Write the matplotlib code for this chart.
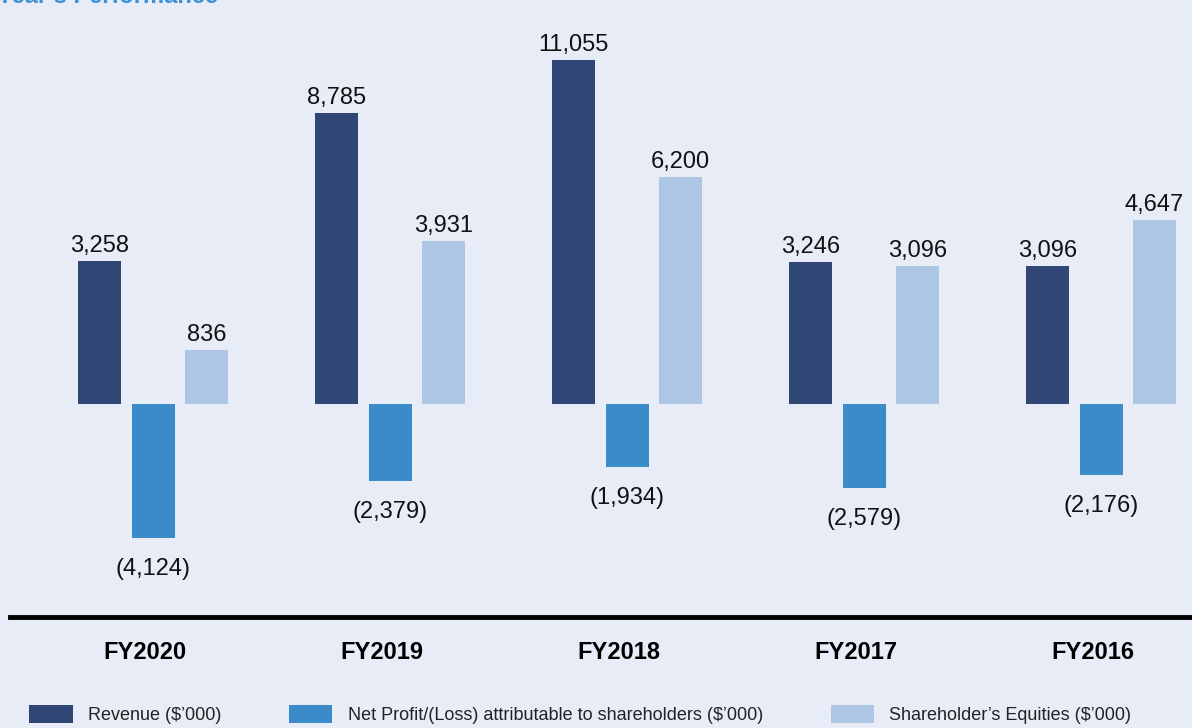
import matplotlib
matplotlib.use("Agg")
import matplotlib.pyplot as plt
import numpy as np

plt.rcParams["font.family"] = ["Liberation Sans", "DejaVu Sans"]

# ---- data ----
years = ["FY2020", "FY2019", "FY2018", "FY2017", "FY2016"]
revenue = [3258, 8785, 11055, 3246, 3096]
net_profit = [-4124, -2379, -1934, -2579, -2176]
equities = [836, 3931, 6200, 3096, 4647]
series_names = ["Revenue ($\u2019000)",
                "Net Profit/(Loss) attributable to shareholders ($\u2019000)",
                "Shareholder\u2019s Equities ($\u2019000)"]

BG = "#e8ecf7"
COLORS = ["#304776", "#3b8bc8", "#adc6e4"]

# the infographic is not drawn to a linear scale: positives are compressed
# (roughly a 0.72 power), negatives are close to linear
P, KPOS, KNEG = 0.72, 0.4218, 0.0325


def fwd(v):
    v = np.asarray(v, dtype=float)
    return np.where(v >= 0, KPOS * np.abs(v) ** P, KNEG * v)


def inv(y):
    y = np.asarray(y, dtype=float)
    return np.where(y >= 0, (np.abs(y) / KPOS) ** (1 / P), y / KNEG)


W, H = 1192, 728
fig = plt.figure(figsize=(W / 100, H / 100), dpi=100, facecolor=BG)
# axes from x=10px to right edge, y from top down to the black line (617px)
ax = fig.add_axes([10 / W, 1 - 617 / H, 1 - 10 / W, 617 / H])
ax.set_facecolor(BG)
ax.set_yscale("function", functions=(fwd, inv))
ax.set_ylim(float(inv(-(617 - 404))), float(inv(404)))

group_px = 237
x0_px = 153 - 10
ax.set_xlim(-x0_px / group_px, (W - 10 - x0_px) / group_px)

x = np.arange(len(years))
bw = 43 / group_px
off = 53.5 / group_px


def fmt(v):
    s = f"{abs(v):,}"
    return f"({s})" if v < 0 else s


for k, (vals, name) in enumerate(zip([revenue, net_profit, equities], series_names)):
    bars = ax.bar(x + (k - 1) * off, vals, width=bw, color=COLORS[k], label=name)
    for b, v in zip(bars, vals):
        cx = b.get_x() + b.get_width() / 2
        if v >= 0:
            ax.annotate(fmt(v), (cx, v), xytext=(0, 9), textcoords="offset pixels",
                        ha="center", va="baseline", fontsize=17, color="#111111")
        else:
            ax.annotate(fmt(v), (cx, v), xytext=(0, -20), textcoords="offset pixels",
                        ha="center", va="top", fontsize=17, color="#111111")

for s in ["top", "left", "right"]:
    ax.spines[s].set_visible(False)
ax.spines["bottom"].set_linewidth(3.5)
ax.spines["bottom"].set_color("black")
ax.set_yticks([])
ax.yaxis.set_minor_locator(matplotlib.ticker.NullLocator())
ax.set_xticks(x - 8 / group_px)
ax.set_xticklabels(years, fontsize=17, fontweight="bold")
ax.tick_params(axis="x", length=0, pad=17)

fig.legend(loc="lower left", bbox_to_anchor=(13 / W, -12 / H), ncol=3, frameon=False,
           fontsize=13, handlelength=2.4, handleheight=1.15, handletextpad=0.85,
           columnspacing=3.75, labelcolor="#222222")

# title sits mostly above the top edge, as in the source crop
fig.text(-3 / W, 1 - 3 / H, "Year\u2019s Performance", fontsize=17, fontweight="bold",
         color="#3d91d4", ha="left", va="baseline")

fig.savefig("out.png", dpi=100, facecolor=BG)
